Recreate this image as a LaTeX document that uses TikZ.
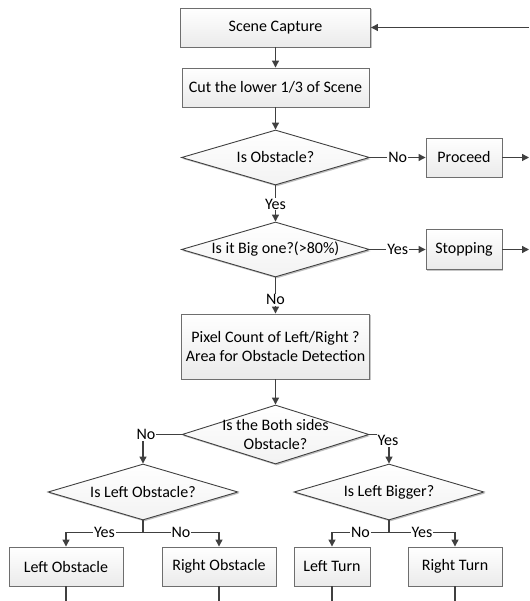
\documentclass[tikz,border=0pt]{standalone}
\usepackage{fontspec}
\setmainfont{Carlito}
\usetikzlibrary{arrows.meta,shapes.geometric,shadows}
\definecolor{lc}{HTML}{404040}
\definecolor{bc}{HTML}{6E6E6E}
\tikzset{
  base/.style={font=\fontsize{16pt}{19pt}\selectfont, text=black},
  box/.style={base, draw=bc, line width=0.9pt, rectangle, inner sep=0pt, align=center,
    top color=white, bottom color=gray!16,
    drop shadow={shadow xshift=1.2pt, shadow yshift=-1.2pt, opacity=0.45, fill=gray}},
  dia/.style={base, draw=lc, line width=0.9pt, diamond, inner sep=0pt, aspect=3.4,
    top color=white, bottom color=gray!10,
    drop shadow={shadow xshift=1.2pt, shadow yshift=-1.5pt, opacity=0.5, fill=gray}},
  conn/.style={draw=lc, line width=1.2pt},
  arr/.style={conn, -{Triangle[length=7pt,width=7pt]}},
  lbl/.style={base, fill=white, inner sep=1pt}
}
\begin{document}
\begin{tikzpicture}[x=1pt,y=-1pt]
\useasboundingbox (0,0) rectangle (529,601);
% nodes
\node[box, minimum width=190pt, minimum height=39pt] (sc) at (275.5,27.5) {Scene Capture};
\node[box, minimum width=187pt, minimum height=39pt] (cut) at (275.5,87.5) {Cut the lower 1/3 of Scene};
\node[dia, minimum width=188pt, minimum height=55pt, label={[base]center:Is Obstacle?}] (d1) at (275.5,157.5) {};
\node[box, minimum width=76pt, minimum height=39pt] (proc) at (464,157.5) {Proceed};
\node[dia, minimum width=188pt, minimum height=55pt, label={[base]center:Is it Big one?(>80\%)}] (d2) at (275.5,249.5) {};
\node[box, minimum width=76pt, minimum height=40pt] (stop) at (464,249.5) {Stopping};
\node[box, minimum width=188pt, minimum height=65pt] (pc) at (275.5,346.5) {Pixel Count of Left/Right ?\\Area for Obstacle Detection};
\node[dia, minimum width=187pt, minimum height=59pt, label={[base,align=center]center:Is the Both sides\\Obstacle?}] (d3) at (275.5,434.5) {};
\node[dia, minimum width=190pt, minimum height=56pt, label={[base]center:Is Left Obstacle?}] (d4) at (143,492) {};
\node[dia, minimum width=190pt, minimum height=56pt, label={[base]center:Is Left Bigger?}] (d5) at (389,492) {};
\node[box, minimum width=114pt, minimum height=39pt] (lo) at (66,566.5) {Left Obstacle};
\node[box, minimum width=114pt, minimum height=39pt] (ro) at (219,566.5) {Right Obstacle};
\node[box, minimum width=76pt, minimum height=39pt] (lt) at (332,566.5) {Left Turn};
\node[box, minimum width=94pt, minimum height=39pt] (rt) at (455,566.5) {Right Turn};
% free ends
\coordinate (in) at (529,27.5);
\coordinate (po) at (529,157.5);
\coordinate (so) at (529,249.5);
\coordinate (e1) at (66,601);
\coordinate (e2) at (219,601);
\coordinate (e3) at (332,601);
\coordinate (e4) at (455,601);
% connectors
\draw[arr] (in) -- (sc.east);
\draw[arr] (sc.south) -- (cut.north);
\draw[arr] (cut.south) -- (d1.north);
\draw[arr] (d1.east) -- node[lbl]{No} (proc.west);
\draw[arr] (proc.east) -- (po);
\draw[arr] (d1.south) -- node[lbl, pos=0.52]{Yes} (d2.north);
\draw[arr] (d2.east) -- node[lbl]{Yes} (stop.west);
\draw[arr] (stop.east) -- (so);
\draw[arr] (d2.south) -- node[lbl, pos=0.62]{No} (pc.north);
\draw[arr] (pc.south) -- (d3.north);
\draw[arr] (d3.west) -| node[lbl, pos=0.5, xshift=3pt]{No} (d4.north);
\draw[arr] (d3.east) -| node[lbl, pos=0.5, yshift=-6pt, xshift=-1pt]{Yes} (d5.north);
\draw[conn] (d4.south) -- ++(0,12) coordinate (s4);
\draw[arr] (s4) -| node[lbl, pos=0.25]{Yes} (lo.north);
\draw[arr] (s4) -| node[lbl, pos=0.25]{No} (ro.north);
\draw[conn] (d5.south) -- ++(0,12) coordinate (s5);
\draw[arr] (s5) -| node[lbl, pos=0.25]{No} (lt.north);
\draw[arr] (s5) -| node[lbl, pos=0.25]{Yes} (rt.north);
\draw[conn] (lo.south) -- (e1);
\draw[conn] (ro.south) -- (e2);
\draw[conn] (lt.south) -- (e3);
\draw[conn] (rt.south) -- (e4);
\end{tikzpicture}
\end{document}
